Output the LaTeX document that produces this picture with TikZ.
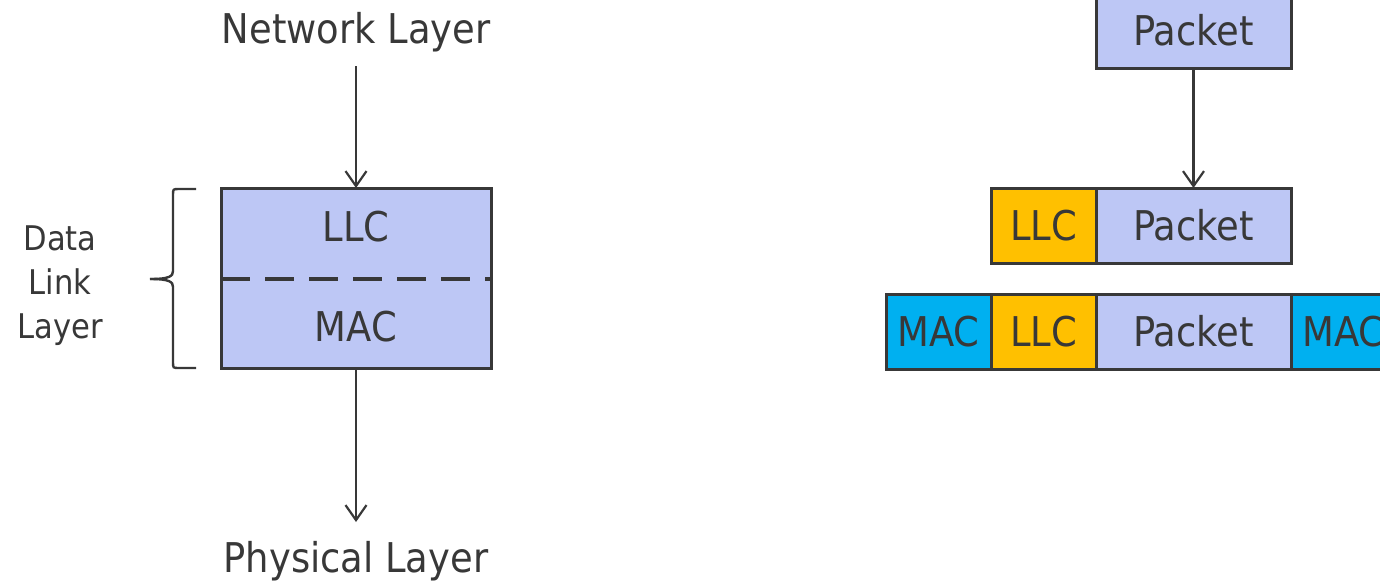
\documentclass[tikz,border=0pt]{standalone}
\usepackage{fontspec}
\setmainfont{DejaVu Sans Condensed}
\usetikzlibrary{arrows.meta,decorations.pathreplacing}
\definecolor{lav}{HTML}{BDC7F5}
\definecolor{llcc}{HTML}{FFC000}
\definecolor{macc}{HTML}{00B0F0}
\definecolor{ink}{HTML}{383838}
\tikzset{
  big/.style={font=\fontsize{41}{46}\selectfont, text=ink},
  small/.style={font=\fontsize{34}{44}\selectfont, text=ink, align=center},
  field/.style={draw=ink, line width=3pt, outer sep=0pt, minimum height=75pt, inner sep=0pt, big},
  flow/.style={draw=ink, line width=2.2pt, -{Straight Barb[length=15pt,width=21pt,line width=2.2pt]}}
}
\begin{document}
\begin{tikzpicture}[x=1pt,y=-1pt]
\useasboundingbox (0,0) rectangle (1380,582);
\begin{scope}
\clip (0,0) rectangle (1380,582);
% left side
\node[big] (net) at (356,32) {Network Layer};
\node[draw=ink, fill=lav, line width=3pt, outer sep=0pt, minimum width=270pt, minimum height=180pt, inner sep=0pt, anchor=north west] (dll) at (221,188) {};
\node[big] (llc) at (356,227) {LLC};
\node[big] (mac) at (356,327) {MAC};
\coordinate (dl) at (221,279);
\coordinate (dr) at (491,279);
\draw[ink, line width=3.6pt, dash pattern=on 29pt off 15pt] (dl) -- (dr);
\node[big] (phy) at (356,561) {Physical Layer};
\draw[flow] (356,66) -- (dll.north);
\draw[flow] (dll.south) -- (356,522);
\coordinate (bt) at (196,189);
\coordinate (bb) at (196,368);
\draw[ink, line width=2.4pt] (bt) -- ++(-17,0) .. controls ++(-6,0) and ++(0,-6) .. ++(-6,6) -- (173,271) .. controls (173,276) and (170,279) .. (150,279);
\draw[ink, line width=2.4pt] (bb) -- ++(-17,0) .. controls ++(-6,0) and ++(0,6) .. ++(-6,-6) -- (173,287) .. controls (173,282) and (170,279) .. (150,279);
\node[small] (dlabel) at (60,286) {Data\\Link\\Layer};
% right side
\node[field, fill=lav, minimum width=195pt, anchor=south west] (p1) at (1096,68) {Packet};
\node[field, fill=llcc, minimum width=105pt, anchor=north west] (l2) at (991,188) {LLC};
\node[field, fill=lav, minimum width=195pt, anchor=north west] (p2) at (1096,188) {Packet};
\node[field, fill=macc, minimum width=105pt, anchor=north west] (m3) at (886,294) {MAC};
\node[field, fill=llcc, minimum width=105pt, anchor=north west] (l3) at (991,294) {LLC};
\node[field, fill=lav, minimum width=195pt, anchor=north west] (p3) at (1096,294) {Packet};
\node[field, fill=macc, minimum width=105pt, anchor=north west] (t3) at (1291,294) {MAC};
\draw[flow] (p1.south) -- (p2.north);
\end{scope}
\end{tikzpicture}
\end{document}
